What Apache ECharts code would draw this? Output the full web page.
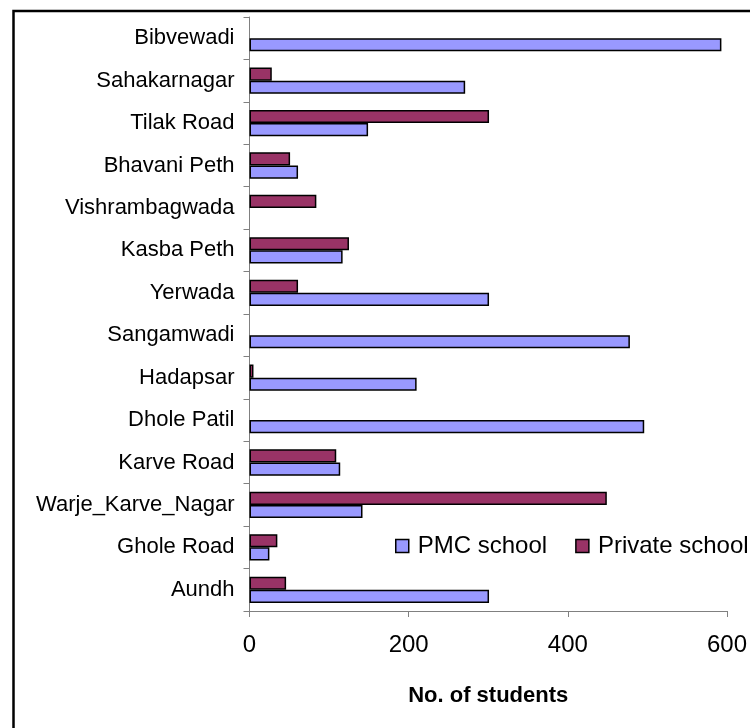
<!DOCTYPE html>
<html>
<head>
<meta charset="utf-8">
<script src="https://cdn.jsdelivr.net/npm/echarts@6/dist/echarts.min.js"></script>
<style>
  html, body { margin: 0; padding: 0; background: #ffffff; }
  #chart { width: 750px; height: 728px; }
</style>
</head>
<body>
<div id="chart"></div>
<script>
// Areas, listed from the bottom of the axis to the top
const areas = [
  'Aundh', 'Ghole Road', 'Warje_Karve_Nagar', 'Karve Road', 'Dhole Patil',
  'Hadapsar', 'Sangamwadi', 'Yerwada', 'Kasba Peth', 'Vishrambagwada',
  'Bhavani Peth', 'Tilak Road', 'Sahakarnagar', 'Bibvewadi'
];
// Number of students per area
const pmcSchool     = [301, 25, 142, 114, 496, 210, 478, 301, 117, 0, 61, 149, 271, 593];
const privateSchool = [46, 35, 449, 109, 0, 5, 0, 61, 125, 84, 51, 301, 28, 0];
const xTicks = [0, 200, 400, 600];

const FONT = '"Liberation Sans", Arial, sans-serif';
// an empty count draws no bar
const bars = arr => arr.map(v => (v === 0 ? '-' : v));

const chart = echarts.init(document.getElementById('chart'), null, { renderer: 'canvas' });
chart.setOption({
  backgroundColor: '#ffffff',
  animation: false,
  graphic: [{
    type: 'rect',
    shape: { x: 13.5, y: 11, width: 900, height: 900 },
    style: { fill: 'none', stroke: '#000000', lineWidth: 2.5 },
    silent: true
  }],
  grid: { left: 249.5, right: 23, top: 17, bottom: 117, containLabel: false },
  legend: {
    data: ['PMC school', 'Private school'],
    left: 395, top: 534,
    width: 400,
    padding: 0,
    icon: 'rect',
    itemWidth: 13, itemHeight: 13, itemGap: 28,
    itemStyle: { borderColor: '#000000', borderWidth: 1.5 },
    textStyle: { fontFamily: FONT, fontSize: 24, color: '#000000', padding: [0, 0, 0, 4] }
  },
  xAxis: {
    type: 'value',
    min: xTicks[0], max: xTicks[xTicks.length - 1], interval: 200,
    name: 'No. of students',
    nameLocation: 'middle', nameGap: 74,
    nameTextStyle: { fontFamily: FONT, fontSize: 22, fontWeight: 'bold', color: '#000000' },
    axisLine: { show: true, lineStyle: { color: '#808080', width: 1 } },
    axisTick: { show: true, inside: false, length: 6, lineStyle: { color: '#808080' } },
    axisLabel: { fontFamily: FONT, fontSize: 24, color: '#000000', margin: 22 },
    splitLine: { show: false }
  },
  yAxis: {
    type: 'category',
    data: areas,
    axisLine: { show: true, lineStyle: { color: '#808080', width: 1 } },
    axisTick: { show: true, inside: false, length: 6, alignWithLabel: false, lineStyle: { color: '#808080' } },
    axisLabel: { fontFamily: FONT, fontSize: 22, color: '#000000', margin: 15 },
    splitLine: { show: false }
  },
  series: [
    {
      name: 'Private school',
      type: 'bar',
      data: bars(privateSchool),
      barGap: '0%',
      barCategoryGap: '38%',
      itemStyle: { color: '#993366', borderColor: '#000000', borderWidth: 1.5 }
    },
    {
      name: 'PMC school',
      type: 'bar',
      data: bars(pmcSchool),
      barGap: '0%',
      barCategoryGap: '38%',
      itemStyle: { color: '#9999FF', borderColor: '#000000', borderWidth: 1.5 }
    }
  ]
});
</script>
</body>
</html>
